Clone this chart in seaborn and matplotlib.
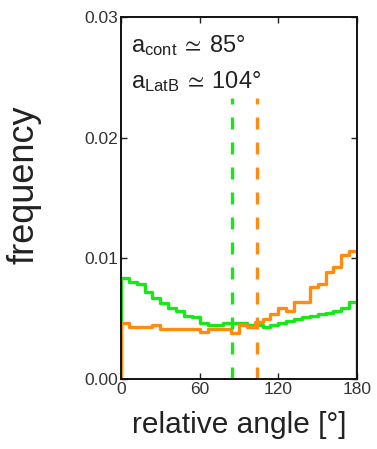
import numpy as np
import pandas as pd
import seaborn as sns
import matplotlib
matplotlib.use("Agg")
import matplotlib.pyplot as plt

# Relative-angle distributions (30 bins of 6 degrees over 0-180)
bin_width = 6
angle_range = (0, 180)
freq_cont = [0.0084, 0.0080, 0.0079, 0.0072, 0.0067, 0.0063, 0.0059, 0.0056,
             0.0052, 0.0051, 0.0046, 0.0045, 0.0045, 0.0046, 0.0046, 0.0046,
             0.0045, 0.0045, 0.0043, 0.0045, 0.0046, 0.0048, 0.0050, 0.0051,
             0.0052, 0.0054, 0.0055, 0.0056, 0.0059, 0.0064]
freq_latb = [0.0046, 0.0043, 0.0043, 0.0043, 0.0045, 0.0041, 0.0041, 0.0041,
             0.0041, 0.0041, 0.0039, 0.0041, 0.0041, 0.0041, 0.0038, 0.0045,
             0.0043, 0.0047, 0.0050, 0.0054, 0.0059, 0.0056, 0.0064, 0.0064,
             0.0076, 0.0079, 0.0089, 0.0093, 0.0103, 0.0106]
mean_cont = 85
mean_latb = 104
x_ticks = [0, 60, 120, 180]
y_ticks = [0.00, 0.01, 0.02, 0.03]

green = "#18e818"
orange = "#ff8c10"

sns.set_style("ticks")
plt.rcParams["font.family"] = ["Liberation Sans", "DejaVu Sans"]
plt.rcParams["mathtext.fontset"] = "custom"
plt.rcParams["mathtext.rm"] = "Liberation Sans"
plt.rcParams["mathtext.it"] = "Liberation Sans"
plt.rcParams["mathtext.fallback"] = "stixsans"

centers = np.arange(angle_range[0], angle_range[1], bin_width) + bin_width / 2
df = pd.DataFrame({
    "angle": np.concatenate([centers, centers]),
    "freq": np.concatenate([freq_cont, freq_latb]),
    "kind": ["cont"] * len(centers) + ["LatB"] * len(centers),
})

fig = plt.figure(figsize=(3.77, 4.49), dpi=100)
ax = fig.add_axes([0.321, 0.156, 0.626, 0.806])

lw = 2.4
for kind, col, vals in [("cont", green, freq_cont), ("LatB", orange, freq_latb)]:
    sub = df[df["kind"] == kind]
    sns.histplot(data=sub, x="angle", weights="freq", binwidth=bin_width,
                 binrange=angle_range, element="step", fill=False,
                 color=col, linewidth=lw, ax=ax)
    # closing edges of the step outline down to zero
    ax.vlines(list(angle_range), 0, [vals[0], vals[-1]],
              color=col, linewidth=lw)

ax.vlines(mean_cont, 0, 0.0233, color=green, linewidth=2.4,
          linestyle=(0, (3.6, 3.9)))
ax.vlines(mean_latb, 0, 0.0233, color=orange, linewidth=2.4,
          linestyle=(0, (3.6, 3.9)))

ax.set_xlim(*angle_range)
ax.set_ylim(0, 0.03)
ax.set_xticks(x_ticks)
ax.set_yticks(y_ticks)
ax.set_xticklabels([str(t) for t in x_ticks])
ax.set_yticklabels([f"{t:.2f}" for t in y_ticks])
ax.tick_params(direction="in", length=4, width=1, top=True, right=True,
               labelsize=12.5, pad=2, colors="#222222", labelcolor="#333333")

for s in ax.spines.values():
    s.set_linewidth(1.4)
    s.set_color("#111111")

ax.set_xlabel("relative angle [°]", fontsize=21.5, color="#222222", labelpad=10)
ax.set_ylabel("frequency", fontsize=26, color="#222222")
ax.yaxis.set_label_coords(-0.335, 0.536)

ax.text(0.042, 0.903, r"$\mathrm{a_{cont}\:\simeq\:85°}$", transform=ax.transAxes,
        fontsize=17, va="baseline", ha="left", color="#222222")
ax.text(0.042, 0.804, r"$\mathrm{a_{LatB}\:\simeq\:104°}$", transform=ax.transAxes,
        fontsize=17, va="baseline", ha="left", color="#222222")

fig.savefig("out.png", dpi=100)
